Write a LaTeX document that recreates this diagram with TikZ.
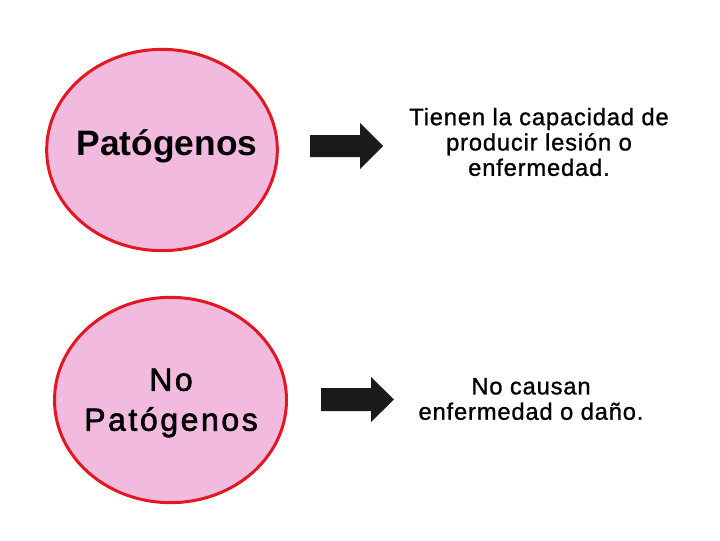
\documentclass[tikz,border=0pt]{standalone}
\usepackage{fontspec}
\setmainfont{Liberation Sans}
\newfontfamily\wordfont[LetterSpace=8, FakeBold=2]{Liberation Sans}
\newfontfamily\notefont[LetterSpace=3.5, FakeBold=1]{Liberation Sans}
\usetikzlibrary{shapes.geometric}
\definecolor{CellPink}{RGB}{242,186,222}
\definecolor{CellRed}{RGB}{228,22,32}
\definecolor{ArrowInk}{RGB}{26,26,26}

\begin{document}
\begin{tikzpicture}[x=0.75pt, y=-0.75pt,
        cell/.style={ellipse, draw=CellRed, line width=2.25pt, fill=CellPink, inner sep=0pt},
    word/.style={align=center, text=black, inner sep=0pt},
    desc/.style={align=center, inner sep=0pt, font=\notefont\fontsize{17.8}{19}\selectfont},
        blockarr/.style={fill=ArrowInk}
]
    \useasboundingbox (0,0) rectangle (720,540);
    \node[cell, minimum width=173pt, minimum height=151pt] (pat) at (162,150) {};
    \node[cell, minimum width=174pt, minimum height=154pt] (nopat) at (170.5,400) {};
    \node[word, font=\bfseries\fontsize{26.5}{30}\selectfont] (patlabel) at (167,146) {Patógenos};
    \node[word, font=\wordfont\fontsize{24}{30}\selectfont] (nopatlabel) at (171,403) {No\\Patógenos};
    \fill[blockarr] (310,135) -- (360,135) -- (360,123) -- (383,146) -- (360,169) -- (360,157) -- (310,157) -- cycle;
    \fill[blockarr] (321,388) -- (371,388) -- (371,377) -- (394,399.5) -- (371,422) -- (371,411) -- (321,411) -- cycle;
    \node[desc] (patdesc) at (539,142) {Tienen la capacidad de\\producir lesión o\\enfermedad.};
    \node[desc] (nopatdesc) at (531,399) {No causan\\enfermedad o daño.};
\end{tikzpicture}
\end{document}
